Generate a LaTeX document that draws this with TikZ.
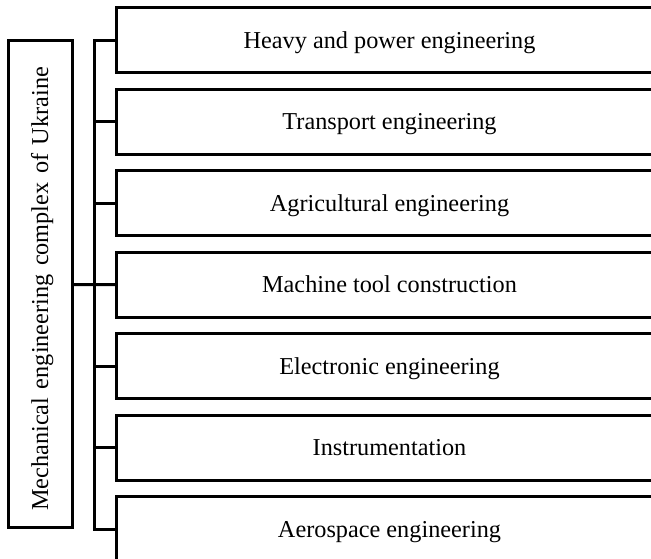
\documentclass[tikz,border=0pt]{standalone}
\usepackage{fontspec}
\setmainfont{Liberation Serif}
\begin{document}
\begin{tikzpicture}[x=0.75pt,y=-0.75pt,
  line width=2.25pt, line join=miter,
  branchbox/.style={draw, anchor=west, minimum width=409.5pt, minimum height=48.4pt, inner sep=0pt,
    text height=12pt, text depth=0pt,
    font=\fontsize{18.2}{22}\selectfont},
  mainbox/.style={draw, rotate=90, minimum width=365.25pt, minimum height=48pt, inner sep=0pt,
    text height=12pt, text depth=0pt,
    font=\fontsize{18.2}{22}\selectfont},
  wire/.style={line width=2.25pt}]
\useasboundingbox (0,0) rectangle (651,559);
\clip (0,0) rectangle (651,559);
\node[mainbox] (main) at (40,284.5) {\spaceskip=0.35em\relax Mechanical engineering complex of Ukraine\kern6.6pt\relax};
\node[branchbox] (b1) at (115,40.25) {Heavy and power engineering};
\node[branchbox] (b2) at (115,121.75) {Transport engineering};
\node[branchbox] (b3) at (115,203.25) {Agricultural engineering};
\node[branchbox] (b4) at (115,284.75) {Machine tool construction};
\node[branchbox] (b5) at (115,366.25) {Electronic engineering};
\node[branchbox] (b6) at (115,447.75) {Instrumentation};
\node[branchbox] (b7) at (115,529.25) {Aerospace engineering};
\coordinate (bus) at (94,284.75);
\draw[wire] (b1.west) -| (bus) |- (b7.west);
\foreach \i in {2,3,5,6} \draw[wire] (b\i.west) -- (b\i.west -| bus);
\draw[wire] (main.south) -- (b4.west);
\end{tikzpicture}
\end{document}
